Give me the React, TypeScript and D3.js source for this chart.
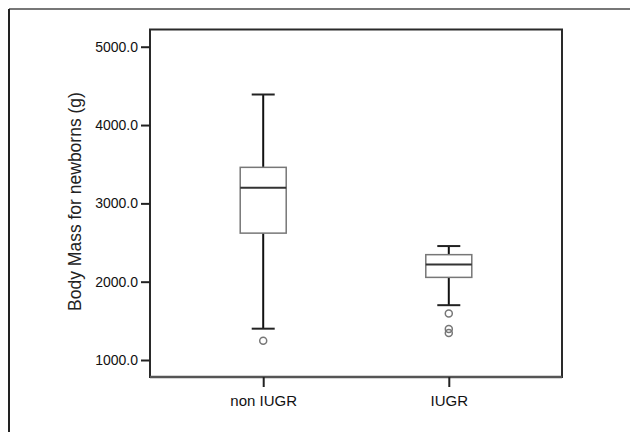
import React, { useEffect, useRef } from 'react'
import * as d3 from 'd3'

const categories = ['non IUGR', 'IUGR']
const whiskerLow = [1400, 1700]
const q1 = [2620, 2055]
const median = [3200, 2220]
const q3 = [3460, 2345]
const whiskerHigh = [4390, 2455]
const outliers = [[1245], [1595, 1395, 1345]]
const yTicks = [1000, 2000, 3000, 4000, 5000]

const W = 630,
      H = 432,
      LEFT = 150,
      RIGHT = 562,
      TOP = 29.5,
      BOTTOM = 377,
      BOX_W = 46,
      CAP_W = 23,
      FONT = 'Liberation Sans, Arial, sans-serif'

export default function App() {
  const ref = useRef<SVGSVGElement>(null)

  useEffect(() => {
    const svg = d3.select(ref.current)
    svg.selectAll('*').remove()

    const x = d3.scalePoint<string>().domain(categories).range([LEFT, RIGHT]).padding(0.61)
    const y = d3.scaleLinear().domain([783, 5220]).range([BOTTOM, TOP])

    // outer frame (only top / left edges visible)
    svg.append('line').attr('x1', 9).attr('x2', W).attr('y1', 9).attr('y2', 9)
      .attr('stroke', '#777').attr('stroke-width', 2)
    svg.append('line').attr('x1', 9).attr('x2', 9).attr('y1', 9).attr('y2', H)
      .attr('stroke', '#222').attr('stroke-width', 2)

    // plot frame
    svg.append('rect')
      .attr('x', LEFT).attr('y', TOP)
      .attr('width', RIGHT - LEFT).attr('height', BOTTOM - TOP)
      .attr('fill', 'none').attr('stroke', '#2a2a2a').attr('stroke-width', 2)
    svg.append('line').attr('x1', LEFT).attr('x2', RIGHT).attr('y1', BOTTOM).attr('y2', BOTTOM)
      .attr('stroke', '#555').attr('stroke-width', 2.5)

    // y axis
    const yAxis = svg.append('g').attr('transform', `translate(${LEFT},0)`)
      .call(d3.axisLeft(y).tickValues(yTicks).tickSize(9).tickPadding(3).tickFormat(d3.format('.1f')))
    yAxis.select('.domain').remove()
    yAxis.selectAll('line').attr('stroke', '#222').attr('stroke-width', 2)
    yAxis.selectAll('text').attr('font-family', FONT).attr('font-size', 14).attr('fill', '#111')

    // x axis
    const xAxis = svg.append('g').attr('transform', `translate(0,${BOTTOM})`)
      .call(d3.axisBottom(x).tickSize(10).tickPadding(8))
    xAxis.select('.domain').remove()
    xAxis.selectAll('line').attr('stroke', '#222').attr('stroke-width', 2)
    xAxis.selectAll('text').attr('font-family', FONT).attr('font-size', 15).attr('fill', '#111')

    // y title
    svg.append('text')
      .attr('transform', `translate(80.5,${(93 + 310) / 2}) rotate(-90)`)
      .attr('text-anchor', 'middle')
      .attr('font-family', FONT).attr('font-size', 17.5).attr('fill', '#222')
      .text('Body Mass for newborns (g)')

    const g = svg.append('g')
    categories.forEach((c, i) => {
      const cx = x(c) as number
      // whiskers
      g.append('line').attr('x1', cx).attr('x2', cx).attr('y1', y(q3[i])).attr('y2', y(whiskerHigh[i]))
        .attr('stroke', '#111').attr('stroke-width', 2)
      g.append('line').attr('x1', cx).attr('x2', cx).attr('y1', y(q1[i])).attr('y2', y(whiskerLow[i]))
        .attr('stroke', '#111').attr('stroke-width', 2)
      g.append('line').attr('x1', cx - CAP_W / 2).attr('x2', cx + CAP_W / 2)
        .attr('y1', y(whiskerHigh[i])).attr('y2', y(whiskerHigh[i]))
        .attr('stroke', '#222').attr('stroke-width', 2)
      g.append('line').attr('x1', cx - CAP_W / 2).attr('x2', cx + CAP_W / 2)
        .attr('y1', y(whiskerLow[i])).attr('y2', y(whiskerLow[i]))
        .attr('stroke', '#222').attr('stroke-width', 2)
      // box
      g.append('rect')
        .attr('x', cx - BOX_W / 2).attr('width', BOX_W)
        .attr('y', y(q3[i])).attr('height', y(q1[i]) - y(q3[i]))
        .attr('fill', '#fff').attr('stroke', '#777').attr('stroke-width', 1.5)
      g.append('line').attr('x1', cx - BOX_W / 2).attr('x2', cx + BOX_W / 2)
        .attr('y1', y(median[i])).attr('y2', y(median[i]))
        .attr('stroke', '#333').attr('stroke-width', 2)
      // outliers
      g.selectAll(null).data(outliers[i]).enter().append('circle')
        .attr('cx', cx).attr('cy', d => y(d)).attr('r', 3.5)
        .attr('fill', 'none').attr('stroke', '#777').attr('stroke-width', 1.5)
    })
  }, [])

  return (
    <svg ref={ref} width={W} height={H}
      style={{ position: 'absolute', left: 0, top: 0, background: '#fff' }} />
  )
}
